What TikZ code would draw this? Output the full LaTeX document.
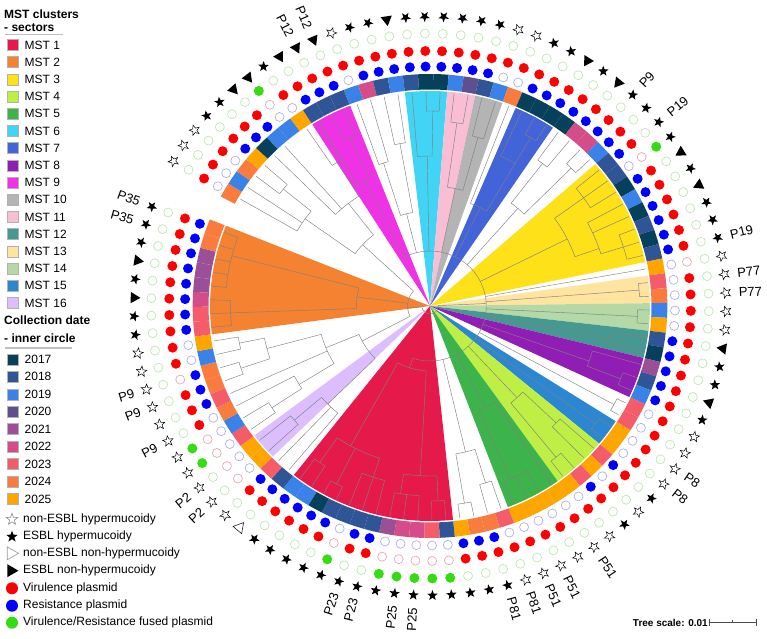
\documentclass[tikz,border=0pt]{standalone}
\usepackage{fontspec}
\setmainfont{Liberation Sans}
\usetikzlibrary{shapes.geometric}
\definecolor{mstA}{HTML}{E6194B}
\definecolor{mstB}{HTML}{F58231}
\definecolor{mstC}{HTML}{FFE119}
\definecolor{mstD}{HTML}{BFEF45}
\definecolor{mstE}{HTML}{3CB44B}
\definecolor{mstF}{HTML}{42D4F4}
\definecolor{mstG}{HTML}{4363D8}
\definecolor{mstH}{HTML}{911EB4}
\definecolor{mstI}{HTML}{F032E6}
\definecolor{mstJ}{HTML}{B4B4B4}
\definecolor{mstK}{HTML}{FABED4}
\definecolor{mstL}{HTML}{469990}
\definecolor{mstM}{HTML}{FFE4A0}
\definecolor{mstN}{HTML}{B4D8A6}
\definecolor{mstO}{HTML}{2B87D1}
\definecolor{mstP}{HTML}{DCBEFF}
\definecolor{yr17}{HTML}{06405A}
\definecolor{yr18}{HTML}{2F5597}
\definecolor{yr19}{HTML}{3B82E8}
\definecolor{yr20}{HTML}{5E4F8F}
\definecolor{yr21}{HTML}{9B4F96}
\definecolor{yr22}{HTML}{D44D88}
\definecolor{yr23}{HTML}{F55C69}
\definecolor{yr24}{HTML}{F97B3D}
\definecolor{yr25}{HTML}{FFA500}
\definecolor{dotblue}{HTML}{0000FF}
\definecolor{openblue}{HTML}{B0B0E8}
\definecolor{dotred}{HTML}{FF0000}
\definecolor{openred}{HTML}{E8A8B4}
\definecolor{dotgreen}{HTML}{33DD11}
\definecolor{opengreen}{HTML}{BFE6B4}
\newcommand{\tstem}[3]{\draw[treeln] ({150-3.685*(#1)}:#2) -- ({150-3.685*(#1)}:#3);}
\newcommand{\tarc}[3]{\draw[treeln] ({150-3.685*(#2)}:#1) arc[start angle={150-3.685*(#2)}, end angle={150-3.685*(#3)}, radius=#1pt];}
\newcommand{\tleaf}[2]{\tstem{#1}{#2}{214}}
\newcommand{\msect}[3]{\fill[#1] (0,0) -- ({150-3.685*(#2)+1.8425}:215) arc[start angle={150-3.685*(#2)+1.8425}, end angle={150-3.685*(#3)-1.8425}, radius=215pt] -- cycle;}
\begin{document}
\begin{tikzpicture}[x=1pt,y=1pt,
  treeln/.style={draw=black!50, line width=0.45pt},
  dotbB/.style={circle, fill=dotblue, inner sep=0pt, minimum size=10pt},
  dotbo/.style={circle, draw=openblue, line width=0.7pt, inner sep=0pt, minimum size=9pt},
  dotrR/.style={circle, fill=dotred, inner sep=0pt, minimum size=10pt},
  dotro/.style={circle, draw=openred, line width=0.7pt, inner sep=0pt, minimum size=9pt},
  dotgG/.style={circle, fill=dotgreen, inner sep=0pt, minimum size=10pt},
  dotgo/.style={circle, draw=opengreen, line width=0.7pt, inner sep=0pt, minimum size=9pt},
  symS/.style={star, star points=5, star point ratio=2.4, fill=black, inner sep=0pt, minimum size=11pt},
  syms/.style={star, star points=5, star point ratio=2.4, draw=black, line width=0.5pt, inner sep=0pt, minimum size=11pt},
  symT/.style={regular polygon, regular polygon sides=3, fill=black, inner sep=0pt, minimum size=13pt},
  symt/.style={regular polygon, regular polygon sides=3, draw=black, line width=0.5pt, inner sep=0pt, minimum size=13pt},
  lbl/.style={font=\fontsize{13}{15}\selectfont, inner sep=0pt},
  legtxt/.style={font=\fontsize{12}{14}\selectfont, inner sep=0pt, anchor=west},
  leghead/.style={font=\fontsize{12}{14}\selectfont\bfseries, inner sep=0pt, anchor=west},
  legsq/.style={draw=black!30, line width=0.4pt, minimum size=11pt, inner sep=0pt}
]
\useasboundingbox (0,0) rectangle (767,638);
\begin{scope}[shift={(430,332)}, xscale=1.023]
% ---------- sectors ----------
\msect{mstI}{8}{10}
\msect{mstF}{15}{17}
\msect{mstK}{18}{19}
\msect{mstJ}{20}{21}
\msect{mstG}{23}{25}
\msect{mstC}{30}{37}
\msect{mstM}{39}{40}
\msect{mstN}{41}{42}
\msect{mstL}{43}{44}
\msect{mstH}{45}{47}
\msect{mstO}{50}{51}
\msect{mstD}{52}{55}
\msect{mstE}{56}{59}
\msect{mstA}{64}{75}
\msect{mstP}{78}{79}
\msect{mstB}{88}{95}
% ---------- tree ----------
\tarc{8}{40}{88}
\tstem{40}{8}{55}
\tstem{88}{8}{22}
\tarc{55}{9}{70}
% MST9
\tstem{9}{55}{140}\tarc{140}{8}{9.5}\tleaf{8}{140}\tstem{9.5}{140}{185}\tarc{185}{9}{10}\tleaf{9}{185}\tleaf{10}{185}
% 11-14
\tstem{12.5}{55}{95}\tarc{95}{11.5}{13.5}\tstem{11.5}{95}{150}\tarc{150}{11}{12}\tleaf{11}{150}\tleaf{12}{150}
\tstem{13.5}{95}{165}\tarc{165}{13}{14}\tleaf{13}{165}\tleaf{14}{165}
% MST6
\tstem{16}{55}{150}\tarc{150}{15}{16.5}\tleaf{15}{150}\tstem{16.5}{150}{195}\tarc{195}{16}{17}\tleaf{16}{195}\tleaf{17}{195}
% 18-21
\tstem{19.5}{55}{120}\tarc{120}{18.5}{20.5}\tstem{18.5}{120}{185}\tarc{185}{18}{19}\tleaf{18}{185}\tleaf{19}{185}
\tstem{20.5}{120}{175}\tarc{175}{20}{21}\tleaf{20}{175}\tleaf{21}{175}
% 22-25
\tstem{23.5}{55}{110}\tarc{110}{22}{24.5}\tleaf{22}{110}\tstem{24.5}{110}{165}\tarc{165}{23}{24.5}\tleaf{23}{165}
\tstem{24.5}{165}{195}\tarc{195}{24}{25}\tleaf{24}{195}\tleaf{25}{195}
% 26-29
\tstem{27.5}{55}{130}\tarc{130}{26.5}{28.5}\tstem{26.5}{130}{180}\tarc{180}{26}{27}\tleaf{26}{180}\tleaf{27}{180}
\tstem{28.5}{130}{195}\tarc{195}{28}{29}\tleaf{28}{195}\tleaf{29}{195}
% MST3
\tstem{33.5}{55}{150}\tarc{150}{31}{35.5}\tstem{31}{150}{185}\tarc{185}{30}{32}\tleaf{30}{185}\tleaf{31}{185}\tleaf{32}{185}
\tstem{35.5}{150}{175}\tarc{175}{33}{36}\tleaf{33}{175}\tleaf{34}{175}\tstem{36}{175}{198}\tarc{198}{35}{37}
\tleaf{35}{198}\tleaf{36}{198}\tleaf{37}{198}
% 38-49
\tleaf{38}{55}
\tstem{39.5}{55}{205}\tarc{205}{39}{40}\tleaf{39}{205}\tleaf{40}{205}
\tstem{41.5}{55}{203}\tarc{203}{41}{42}\tleaf{41}{203}\tleaf{42}{203}
\tstem{43.5}{55}{180}\tarc{180}{43}{44}\tleaf{43}{180}\tleaf{44}{180}
\tstem{46}{55}{165}\tarc{165}{45}{46.5}\tleaf{45}{165}\tstem{46.5}{165}{200}\tarc{200}{46}{47}\tleaf{46}{200}\tleaf{47}{200}
\tstem{48.5}{55}{205}\tarc{205}{48}{49}\tleaf{48}{205}\tleaf{49}{205}
\tstem{50.5}{55}{200}\tarc{200}{50}{51}\tleaf{50}{200}\tleaf{51}{200}
% MST4
\tstem{53.5}{55}{125}\tarc{125}{52.5}{54.5}\tstem{52.5}{125}{170}\tarc{170}{52}{53}\tleaf{52}{170}\tleaf{53}{170}
\tstem{54.5}{125}{195}\tarc{195}{54}{55}\tleaf{54}{195}\tleaf{55}{195}
% MST5
\tstem{57.5}{55}{115}\tarc{115}{56}{58.5}\tleaf{56}{115}\tstem{58.5}{115}{190}\tarc{190}{57}{59}\tleaf{57}{190}\tleaf{58}{190}\tleaf{59}{190}
% 60-63
\tstem{61.5}{55}{150}\tarc{150}{60.5}{62.5}\tstem{60.5}{150}{185}\tarc{185}{60}{61}\tleaf{60}{185}\tleaf{61}{185}
\tstem{62.5}{150}{200}\tarc{200}{62}{63}\tleaf{62}{200}\tleaf{63}{200}
% MST1
\tstem{70}{55}{65}\tarc{65}{66}{73}
\tstem{66}{65}{170}\tarc{170}{64.5}{67.5}\tstem{64.5}{170}{195}\tarc{195}{64}{65}\tleaf{64}{195}\tleaf{65}{195}
\tstem{67.5}{170}{190}\tarc{190}{66}{68}\tleaf{66}{190}\tleaf{67}{190}\tleaf{68}{190}
\tstem{73}{65}{160}\tarc{160}{70}{74.5}\tstem{70}{160}{180}\tarc{180}{69}{71}\tleaf{69}{180}\tleaf{70}{180}\tleaf{71}{180}
\tstem{72.5}{160}{200}\tarc{200}{72}{73}\tleaf{72}{200}\tleaf{73}{200}
\tstem{74.5}{160}{190}\tarc{190}{74}{75}\tleaf{74}{190}\tleaf{75}{190}
% left group
\tarc{22}{82}{101.2}
\tstem{82}{22}{75}\tarc{75}{77.5}{83.5}
\tstem{77.5}{75}{140}\tarc{140}{76}{78.5}\tleaf{76}{140}\tleaf{77}{140}\tstem{78.5}{140}{175}\tarc{175}{78}{79}\tleaf{78}{175}\tleaf{79}{175}
\tstem{83.5}{75}{110}\tarc{110}{81}{85.5}\tstem{81}{110}{150}\tarc{150}{80.5}{82}\tstem{80.5}{150}{185}\tarc{185}{80}{81}
\tleaf{80}{185}\tleaf{81}{185}\tleaf{82}{150}\tleaf{83}{110}
\tstem{85.5}{110}{165}\tarc{165}{84.5}{86.5}\tstem{84.5}{165}{195}\tarc{195}{84}{85}\tleaf{84}{195}\tleaf{85}{195}
\tstem{86.5}{165}{190}\tarc{190}{86}{87}\tleaf{86}{190}\tleaf{87}{190}
\tstem{91.5}{22}{72}\tarc{72}{89}{93.5}\tstem{89}{72}{195}\tarc{195}{88}{90}\tleaf{88}{195}\tleaf{89}{195}\tleaf{90}{195}
\tstem{93.5}{72}{200}\tarc{200}{91}{95}\tleaf{91}{200}\tleaf{92}{200}\tleaf{93}{200}\tleaf{94}{200}\tleaf{95}{200}
\tstem{101.2}{22}{90}\tarc{90}{99.2}{103.7}
\tstem{99.2}{90}{150}\tarc{150}{97.69}{100.19}\tleaf{97.69}{150}\tleaf{98.69}{150}\tstem{100.19}{150}{185}\tarc{185}{99.69}{100.69}
\tleaf{99.69}{185}\tleaf{100.69}{185}
\tstem{103.7}{90}{130}\tarc{130}{101.69}{105.19}\tleaf{101.69}{130}\tleaf{102.69}{130}\tstem{105.19}{130}{170}\tarc{170}{104.69}{105.69}
\tleaf{104.69}{170}\tleaf{105.69}{170}
% ---------- ring, dots, symbols ----------
\foreach \vY/\vB/\vR/\vG/\vS [count=\ii from 0] in {
24/o/R/o/s, 19/o/R/o/s, 24/o/R/o/s, 25/B/R/o/S, 17/B/R/o/S, 19/B/R/o/T, 19/o/o/G/T, 25/o/R/o/S, 18/B/R/o/T, 18/B/R/o/T,
18/B/R/o/T, 19/o/R/o/s, 22/B/R/o/S, 18/B/R/o/S, 19/B/R/o/T, 18/B/R/o/S, 17/B/R/o/S, 17/B/R/o/S, 19/B/R/o/S, 20/B/R/o/S,
18/B/R/o/S, 19/o/R/o/s, 24/o/R/o/s, 17/B/R/o/S, 17/B/R/o/S, 17/B/R/o/T, 17/B/R/o/S, 22/B/R/o/T, 22/B/R/o/S, 19/B/R/o/S,
18/B/R/o/S, 18/o/o/G/S, 17/B/R/o/T, 19/B/R/o/S, 17/B/R/o/T, 18/B/R/o/S, 17/B/R/o/S, 18/B/R/o/S, 25/o/o/o/s, 23/o/R/o/s,
24/o/R/o/s, 19/o/R/o/s, 25/o/R/o/s, 18/B/R/o/T, 17/B/R/o/S, 21/B/R/o/S, 18/B/R/o/T, 19/B/R/o/S, 23/o/R/o/s, 23/o/R/o/s,
25/o/R/o/s, 25/o/R/o/s, 23/B/R/o/S, 25/o/R/o/s, 23/B/R/o/S, 25/o/R/o/s, 25/o/R/o/s, 25/o/R/o/s, 25/o/R/o/s, 25/o/R/o/s,
23/o/R/o/s, 24/B/R/o/S, 24/B/R/o/S, 25/B/R/o/S, 18/o/o/G/S, 23/o/o/G/S, 22/o/o/G/S, 22/o/o/G/S, 21/o/o/G/S, 18/B/R/o/S,
18/B/R/o/S, 18/o/o/G/S, 18/B/R/o/S, 17/B/R/o/S, 19/B/R/o/S, 19/B/R/o/S, 18/B/R/o/t, 23/B/R/o/s, 25/o/o/o/s, 25/o/o/o/s,
23/o/o/G/s, 19/o/o/G/s, 24/o/R/o/s, 23/B/R/o/s, 24/B/R/o/s, 24/B/o/o/s, 19/o/R/o/s, 25/o/R/o/s, 23/B/R/o/S, 23/B/R/o/S,
22/B/R/o/T, 21/B/R/o/S, 21/B/R/o/T, 21/B/R/o/S, 24/B/R/o/S, 24/B/R/o/S}
{
  \pgfmathsetmacro\lang{150-3.685*\ii}
  \fill[yr\vY] ({\lang+1.8425}:216.5) arc[start angle={\lang+1.8425}, end angle={\lang-1.8425}, radius=216.5pt]
     -- ({\lang-1.8425}:232) arc[start angle={\lang-1.8425}, end angle={\lang+1.8425}, radius=232pt] -- cycle;
  \node[dotb\vB] at (\lang:239.5) {};
  \node[dotr\vR] at (\lang:255) {};
  \node[dotg\vG] at (\lang:272.5) {};
  \node[sym\vS, rotate=\lang+90] at (\lang:289.5) {};
}
% ---------- labels ----------
\foreach \ii/\lab in {28/P9, 30/P19, 37/P19, 39/P77, 40/P77, 50/P8, 51/P8, 56/P51, 58/P51, 59/P51, 60/P81, 61/P81}
  \node[lbl, anchor=west, rotate={150-3.685*\ii}] at ({150-3.685*\ii}:302) {\lab};
\foreach \ii/\lab in {9/P12, 10/P12, 66/P25, 67/P25, 69/P23, 70/P23, 78/P2, 79/P2, 82/P9, 84/P9, 85/P9, 94/P35, 95/P35}
  \node[lbl, anchor=east, rotate={150-3.685*\ii+180}] at ({150-3.685*\ii}:302) {\lab};
\end{scope}
% ---------- legend ----------
\node[leghead] (h1) at (4,624) {MST clusters};
\node[leghead] (h2) at (4,610) {- sectors};
\draw[black!25, line width=1.2pt] (5,603.5) -- (63,603.5);
\foreach \c/\nm [count=\k from 0] in {mstA/MST 1, mstB/MST 2, mstC/MST 3, mstD/MST 4, mstE/MST 5, mstF/MST 6, mstG/MST 7, mstH/MST 8,
   mstI/MST 9, mstJ/MST 10, mstK/MST 11, mstL/MST 12, mstM/MST 13, mstN/MST 14, mstO/MST 15, mstP/MST 16}
{
  \node[legsq, fill=\c] at (12.5,{593-17.2*\k}) {};
  \node[legtxt] at (24.5,{593-17.2*\k}) {\nm};
}
\node[leghead] (h3) at (4,318) {Collection date};
\node[leghead] (h4) at (4,300) {- inner circle};
\draw[black!25, line width=1.2pt] (5,290) -- (72,290);
\foreach \c/\nm [count=\k from 0] in {yr17/2017, yr18/2018, yr19/2019, yr20/2020, yr21/2021, yr22/2022, yr23/2023, yr24/2024, yr25/2025}
{
  \node[legsq, fill=\c] at (12.5,{278.7-17.45*\k}) {};
  \node[legtxt] at (24.5,{278.7-17.45*\k}) {\nm};
}
\node[star, star points=5, star point ratio=2.4, draw=black!45, line width=0.6pt, inner sep=0pt, minimum size=12pt] (l1) at (12,118.7) {};
\node[legtxt] at (23,118.7) {non-ESBL hypermucoidy};
\node[star, star points=5, star point ratio=2.4, fill=black, inner sep=0pt, minimum size=12pt] (l2) at (12,101.3) {};
\node[legtxt] at (23,101.3) {ESBL hypermucoidy};
\node[regular polygon, regular polygon sides=3, rotate=-90, draw=black!40, line width=0.6pt, inner sep=0pt, minimum size=15pt] (l3) at (11,84.7) {};
\node[legtxt] at (23,84.7) {non-ESBL non-hypermucoidy};
\node[regular polygon, regular polygon sides=3, rotate=-90, fill=black, inner sep=0pt, minimum size=15pt] (l4) at (11,67.3) {};
\node[legtxt] at (23,67.3) {ESBL non-hypermucoidy};
\node[circle, fill=dotred, inner sep=0pt, minimum size=12pt] (l5) at (12,49.7) {};
\node[legtxt] at (23,49.7) {Virulence plasmid};
\node[circle, fill=dotblue, inner sep=0pt, minimum size=12pt] (l6) at (12,32.3) {};
\node[legtxt] at (23,32.3) {Resistance plasmid};
\node[circle, fill=dotgreen, inner sep=0pt, minimum size=12pt] (l7) at (12,15.3) {};
\node[legtxt] at (23,15.3) {Virulence/Resistance fused plasmid};
% ---------- tree scale ----------
\node[font=\fontsize{10}{12}\selectfont\bfseries, inner sep=0pt, anchor=east] (ts) at (708,15.5) {Tree scale: 0.01};
\coordinate (sb1) at (709,15.3);
\coordinate (sb2) at (756,15.3);
\draw[black!70, line width=0.6pt] (sb1) -- (sb2);
\draw[black!70, line width=0.6pt] ([yshift=-3.3pt]sb1) -- ([yshift=3.3pt]sb1);
\draw[black!70, line width=0.6pt] ([yshift=-3.3pt]sb2) -- ([yshift=3.3pt]sb2);
\draw[black!70, line width=0.6pt] (732.5,15.3) -- (732.5,18);
\end{tikzpicture}
\end{document}
